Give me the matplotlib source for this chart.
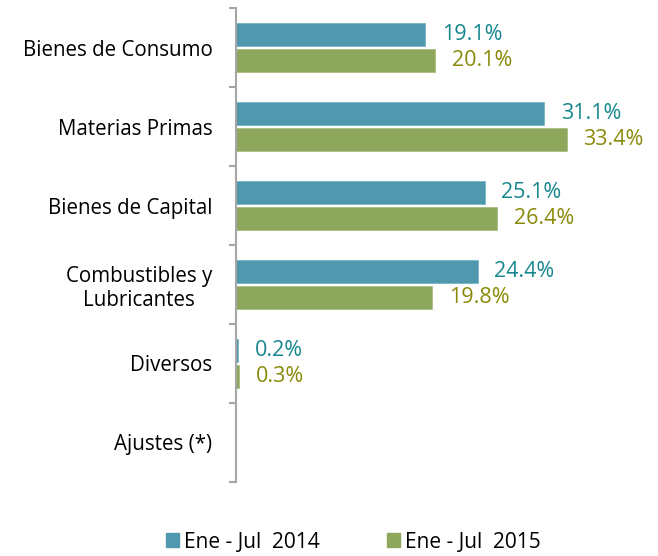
import matplotlib.pyplot as plt
import numpy as np

categories = ['Bienes de Consumo', 'Materias Primas', 'Bienes de Capital',
              'Combustibles y\nLubricantes', 'Diversos', 'Ajustes (*)']
v2014 = [19.1, 31.1, 25.1, 24.4, 0.2, None]
v2015 = [20.1, 33.4, 26.4, 19.8, 0.3, None]
series_names = ['Ene - Jul  2014', 'Ene - Jul  2015']

plt.rcParams['font.family'] = ['Open Sans', 'DejaVu Sans']

fig = plt.figure(figsize=(6.58, 5.56), dpi=100)
ax = fig.add_axes([0.3587, 0.1331, 0.6018, 0.8525])

y = np.arange(len(categories))
h = 0.29
off = 0.17
c1, c2 = '#4F98AE', '#8DA75C'
t1, t2 = '#17878F', '#8A8A0A'

for i in range(len(categories)):
    if v2014[i] is not None:
        ax.barh(y[i] - off, v2014[i], height=h, color=c1,
                edgecolor='#6FB0C2', linewidth=0.5)
        ax.text(v2014[i] + 1.7, y[i] - off, '%.1f%%' % v2014[i], color=t1,
                va='center', ha='left', fontsize=15.5)
    if v2015[i] is not None:
        ax.barh(y[i] + off, v2015[i], height=h, color=c2,
                edgecolor='#A3B978', linewidth=0.5)
        ax.text(v2015[i] + 1.7, y[i] + off, '%.1f%%' % v2015[i], color=t2,
                va='center', ha='left', fontsize=15.5)

ax.set_xlim(0, 40)
ax.set_ylim(len(categories) - 0.5, -0.5)
ax.set_yticks(y)
ax.set_yticklabels(categories, fontsize=14.8, multialignment='center')
ax.tick_params(axis='y', which='major', length=0, pad=17)
ax.set_yticks(np.arange(len(categories) + 1) - 0.5, minor=True)
ax.tick_params(axis='y', which='minor', length=5, width=1.5, color='#A6A6A6')
ax.set_xticks([])
for s in ['top', 'right', 'bottom']:
    ax.spines[s].set_visible(False)
ax.spines['left'].set_color('#A6A6A6')
ax.spines['left'].set_linewidth(1.5)

handles = [plt.Rectangle((0, 0), 1, 1, color=c1), plt.Rectangle((0, 0), 1, 1, color=c2)]
fig.legend(handles, series_names, loc='center', bbox_to_anchor=(0.537, 0.025),
           ncol=2, frameon=False, fontsize=15, handlelength=0.65, handleheight=0.65,
           handletextpad=0.25, columnspacing=3.2, borderpad=0)

fig.savefig('out.png', dpi=100)
